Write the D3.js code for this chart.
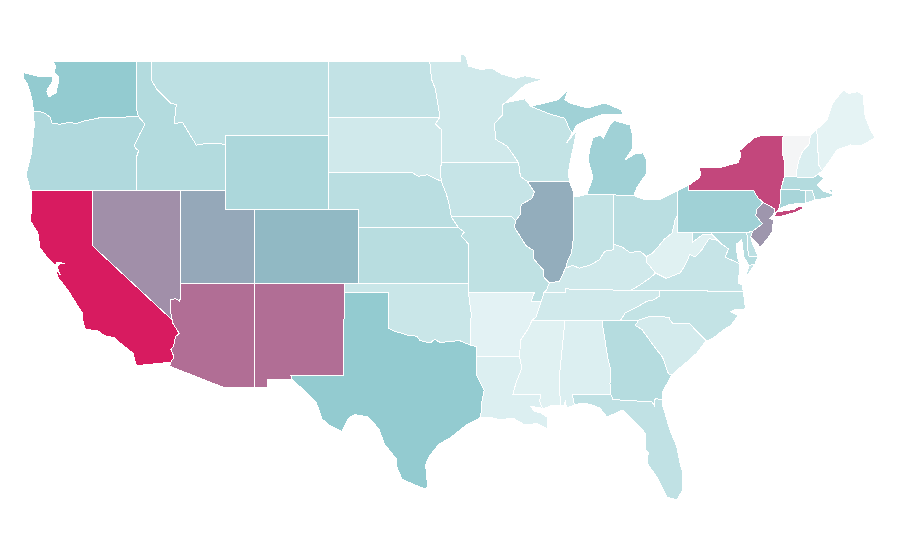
<!DOCTYPE html>
<html><head><meta charset="utf-8">
<script src="https://cdn.jsdelivr.net/npm/d3@7/dist/d3.min.js"></script>
<style>html,body{margin:0;background:#fff}svg{display:block}</style></head>
<body><svg id="map" width="900" height="560"></svg>
<script>
const stateIds=["CA","NY","NM","AZ","NV","NJ","UT","IL","CO","TX","WA","MI","PA","CT","WY","OR","GA","MD","ID","MA","NE","KS","OH","DE","MT","MO","FL","RI","ND","NC","WI","IN","IA","VA","OK","MN","SD","KY","TN","SC","LA","AL","MS","WV","AR","NH","ME","VT"];
const stateValues=[100,81,64,64,50,47,39,37,32,24,24,20.7,20.7,18.7,17.7,16.7,15.4,15.4,15.9,15.9,14.1,14.6,14.1,13.4,13.4,12.9,12.6,12.6,12.1,11.9,11.9,11.9,11.1,11.1,10.3,8.6,8.6,8.6,8.6,7.6,5.5,5.5,4.5,4.5,3.8,6,3.3,0];
const colorStops=[0,3,25,37,100];
const colorRange=["#f4f5f6","#e6f4f5","#8fc9ce","#93adbc","#d81b60"];

const arcs={
columbia:"-124,46.27 -123.5,46.25 -123.2,46.15 -122.85,45.95 -122.78,45.65 -122.2,45.58 -121.5,45.7 -121.15,45.6 -120.6,45.75 -119.6,45.92 -119,45.93 -116.92,46",
snake:"-116.92,46 -116.47,45.6 -116.85,45 -117.2,44.4 -117.05,44.25 -116.9,44.15 -117.03,43.83 -117.03,42",
idmt:"-116.05,49 -116.05,48 -115.7,47.5 -114.7,46.7 -114.35,46.65 -114.5,45.6 -113.95,45.7 -113.45,45.05 -113,44.45 -112.3,44.55 -111.5,44.55 -111.05,44.48",
colorado:"-114.63,35 -114.57,34.8 -114.15,34.27 -114.4,34.1 -114.53,33.6 -114.72,33.4 -114.5,33 -114.72,32.72",
red:"-100,34.56 -99.6,34.38 -99.2,34.3 -98.6,34.15 -98.1,34.13 -97.9,33.9 -97.2,33.75 -96.9,33.95 -96.5,33.78 -95.8,33.85 -95.2,33.88 -94.48,33.64",
sabine:"-94.04,33.02 -94.04,32 -93.8,31.6 -93.55,31.18 -93.7,30.6 -93.72,30.1 -93.84,29.7",
neIa:"-96.45,42.5 -96.1,41.8 -95.9,41.2 -95.77,40.58",
neMo:"-95.77,40.58 -95.3,40",
ksMo:"-95.3,40 -94.9,39.75 -95.1,39.55 -94.6,39.1",
redN:"-97.23,49 -97.1,48 -96.85,47.5 -96.6,46.3 -96.56,45.94",
mnWi:"-92.1,46.75 -92.3,46.65 -92.3,46.1 -92.87,45.6 -92.75,44.75 -92,44.4 -91.22,43.5",
iaWi:"-91.22,43.5 -91.1,42.75 -90.65,42.5",
iaIl:"-90.65,42.5 -90.15,41.9 -90.35,41.55 -91.05,41.25 -91.1,40.7 -91.42,40.38",
moIl:"-91.42,40.38 -91.5,40 -90.7,39 -90.2,38.75 -90.2,38.3 -89.55,37.7 -89.5,37.3 -89.15,37",
moKy:"-89.15,37 -89.35,36.6 -89.5,36.5",
moTn:"-89.5,36.5 -89.7,36",
arTn:"-89.7,36 -90.05,35.15 -90.3,35",
arMs:"-90.3,35 -90.6,34.5 -91.1,33.9 -91.15,33",
laMs:"-91.15,33 -91,32.4 -91.4,31.6 -91.6,31",
ohioIl:"-89.15,37 -88.45,37.1 -88.05,37.8",
ohioIn:"-88.05,37.8 -87.6,37.95 -87.1,37.8 -86.3,38 -85.75,38.27 -85.4,38.72 -84.8,38.8 -84.82,39.1",
ohioOh:"-84.82,39.1 -84.25,38.95 -83.7,38.65 -83,38.72 -82.6,38.42",
ohioWv:"-82.6,38.42 -82.2,38.6 -81.75,39 -81.4,39.35 -80.85,39.7 -80.65,40.4 -80.52,40.64",
wabash:"-87.53,41.7 -87.53,39.35 -87.65,38.6 -87.9,38.2 -88.05,37.8",
kyVa:"-83.68,36.6 -83.1,36.85 -82.3,37.3 -81.97,37.54",
kyWv:"-81.97,37.54 -82.6,38.15 -82.6,38.42",
vaWv:"-81.97,37.54 -81.25,37.25 -80.3,37.55 -79.95,38 -79.65,38.55 -79.3,38.4 -78.87,38.77 -78.35,39.4 -77.75,39.3",
mdWv:"-77.75,39.3 -78.2,39.65 -78.8,39.6 -79.48,39.2 -79.48,39.72",
mdVa:"-77.75,39.3 -77.5,39.1 -77.05,38.85 -77.25,38.4 -77,38.3 -76.3,38.05",
gaAl:"-85.6,35 -85.18,32.87 -85,32.3 -85.05,31.55 -85,31",
alFl:"-85,31 -87.6,31 -87.45,30.4",
gaFl:"-85,31 -84.85,30.7 -82.2,30.57 -82.05,30.37 -82,30.75 -81.53,30.7",
gaSc:"-83.1,35 -83.35,34.7 -82.9,34.5 -82,33.5 -81.5,33 -81.1,32.1 -80.88,32.03",
ncSc:"-83.1,35 -82.3,35.2 -81.05,35.15 -81.05,35.05 -80.8,34.82 -79.67,34.8 -78.55,33.87",
ncTn:"-84.32,35 -84,35.4 -83.1,35.75 -82.6,36 -82.05,36.1 -81.7,36.3 -81.68,36.59",
msAl:"-88.2,35 -88.1,34.9 -88.47,31.9 -88.4,30.37",
wiMi:"-90.4,46.55 -89.1,46.13 -88.1,45.9 -87.8,45.35 -87.6,45.1",
nyVt:"-73.35,45 -73.4,44 -73.25,43.55 -73.27,42.75",
vtNh:"-71.5,45 -71.6,44.5 -72.05,44.1 -72.3,43.6 -72.45,43 -72.46,42.73",
nhMe:"-71.08,45.3 -71,44.3 -70.97,43.4 -70.7,43.07",
nyPa:"-79.76,42.27 -79.76,42 -75.35,42 -75.05,41.6 -74.7,41.36",
paNj:"-74.7,41.36 -75.13,40.98 -75.2,40.65 -74.75,40.2 -75.4,39.8"
};

const outlines={
WA:["-122.76,49 -117.04,49 -117.04,46.4 -116.92,46 ~columbia -124.05,46.65 -124.1,46.9 -124.2,47.2 -124.4,47.75 -124.65,48.05 -124.7,48.38 -123.7,48.17 -123.1,48.17 -122.75,48.15 -122.75,47.85 -123,47.55 -123.1,47.35 -122.95,47.05 -122.75,47.15 -122.45,47.3 -122.4,47.6 -122.3,47.9 -122.35,48.2 -122.6,48.4 -122.5,48.75"],
OR:["@columbia @snake -124.2,42 -124.5,42.85 -124.15,44 -124.05,44.7 -123.95,45.5"],
CA:["-124.1,42 -120,42 -120,39 @colorado -117.05,32.53 -117.28,33.2 -117.9,33.6 -118.36,33.9 -118.5,34.03 -119.2,34.15 -119.6,34.4 -120.5,34.5 -120.65,34.9 -120.72,35.4 -121.67,36.6 -122,36.95 -122.34,37.3 -122.5,37.75 -122.2,37.45 -122.4,37.85 -122.2,38.05 -121.85,38.05 -122.4,38.12 -122.55,37.95 -123,38.3 -123.56,38.9 -123.7,39.7 -124.24,40.4 -124.1,41 -124.15,41.75","-119.9,34 -119.55,34 -119.7,33.95","-118.6,33.45 -118.3,33.35 -118.45,33.3"],
NV:["-120,42 -114.04,42 -114.04,36.2 -114.15,36.03 -114.4,36.15 -114.72,36.1 -114.75,35.5 -114.63,35 -120,39"],
AZ:["-114.04,37 -109.05,37 -109.05,31.33 -111.07,31.33 -114.8,32.5 ~colorado -114.75,35.5 -114.72,36.1 -114.4,36.15 -114.15,36.03 -114.04,36.2"],
NM:["-109.05,37 -103,37 -103,36.5 -103.06,32 -106.62,32 -106.53,31.78 -108.2,31.78 -108.2,31.33 -109.05,31.33"],
UT:["-114.04,42 -111.05,42 -111.05,41 -109.05,41 -109.05,37 -114.04,37"],
CO:["-109.05,41 -102.05,41 -102.05,37 -109.05,37"],
WY:["-111.05,45 -104.05,45 -104.05,41 -111.05,41"],
ID:["-117.04,49 @idmt -111.05,42 -117.03,42 ~snake -117.04,46.4"],
MT:["@idmt -111.05,45 -104.05,45 -104.05,49"],
ND:["-104.05,49 @redN -104.05,45.94"],
SD:["-104.05,45.94 -96.56,45.94 -96.85,45.6 -96.45,45.3 -96.45,43.5 -96.5,43 -96.45,42.5 -97.4,42.85 -98,42.77 -98.5,43 -104.05,43"],
NE:["-104.05,43 -98.5,43 -98,42.77 -97.4,42.85 @neIa @neMo -102.05,40 -102.05,41 -104.05,41"],
KS:["-102.05,40 @ksMo -94.62,37 -102.05,37"],
OK:["-103,37 -94.62,37 -94.62,36.5 -94.43,35.4 ~red -100,36.5 -103,36.5"],
TX:["-103,36.5 -100,36.5 @red -94.04,33.55 @sabine -94.7,29.35 -95.1,29.1 -95.9,28.6 -96.6,28.3 -97.2,27.7 -97.5,27.2 -97.45,26.6 -97.35,25.96 -97.55,25.87 -98.2,26.07 -99.1,26.4 -99.45,27.05 -99.5,27.5 -100.3,28.3 -100.65,29.1 -101.4,29.77 -102.3,29.88 -102.7,29.7 -103.15,28.98 -104,29.3 -104.5,29.65 -104.9,30.55 -106,31.4 -106.53,31.78 -106.62,32 -103.06,32"],
MN:["-97.23,49 -95.15,49 -95.15,49.38 -94.8,49.3 -94.6,48.72 -93.8,48.55 -93,48.6 -92.4,48.3 -91.4,48.07 -90.8,48.2 -89.6,48 -90.8,47.7 @mnWi -96.45,43.5 -96.45,45.3 -96.85,45.6 ~redN"],
IA:["-96.45,43.5 -91.22,43.5 @iaWi @iaIl -91.73,40.61 ~neIa -96.5,43"],
MO:["-95.77,40.58 -91.73,40.61 @moIl @moKy @moTn -90.37,36 -90.15,36.5 -94.62,36.5 -94.62,37 ~ksMo ~neMo"],
AR:["-94.62,36.5 -90.15,36.5 -90.37,36 @arTn @arMs -94.04,33.02 -94.04,33.55 -94.48,33.64 -94.43,35.4"],
LA:["@laMs -89.73,31 -89.8,30.6 -89.6,30.2 -89.85,30.28 -90.4,30.32 -90.15,30.05 -89.75,30 -89.3,29.75 -89.24,29.1 -90,29.4 -90.8,29.32 -91.6,29.7 -92.48,29.6 -93.2,29.75 ~sabine"],
MS:["-90.3,35 @msAl -88.9,30.4 -89.6,30.2 -89.8,30.6 -89.73,31 ~laMs ~arMs"],
AL:["-88.2,35 @gaAl @alFl -88,30.25 -88.05,30.65 -88.15,30.35 ~msAl"],
GA:["-85.6,35 -84.32,35 @gaSc -81.53,31.05 ~gaFl ~gaAl"],
FL:["@gaFl -81.53,30.5 -81,29.05 -80.55,28.2 -80.32,27.27 -80.12,26.73 -80.15,25.8 -80.52,25.27 -81.2,25.43 -81.87,26.5 -82.55,27.27 -82.45,27.85 -82.68,27.97 -82.68,28.9 -83.5,29.6 -84.17,30.14 -85.25,29.76 -85.73,30.24 -86.4,30.45 -87.08,30.5 ~alFl"],
SC:["@ncSc -79.2,33.2 -79.9,32.7 -80.5,32.3 ~gaSc"],
NC:["@ncTn -76.05,36.55 -75.95,36 -75.9,35.6 -76.6,35.55 -76.9,35.45 -76.4,35.25 -76.6,35 -76.9,34.7 -77.4,34.45 -78.1,34 -78.55,33.87 ~ncSc"],
TN:["-90.3,35 -84.32,35 @ncTn -83.68,36.6 -86.5,36.65 -88.07,36.68 -88.07,36.5 @moTn @arTn"],
KY:["@moKy -88.07,36.5 -88.07,36.68 -86.5,36.65 @kyVa @kyWv ~ohioOh ~ohioIn ~ohioIl"],
IL:["-90.65,42.5 -87.8,42.5 -87.55,42 @wabash ~ohioIl ~moIl ~iaIl"],
IN:["-84.8,41.76 -86.6,41.8 -87.3,41.65 @wabash @ohioIn"],
OH:["-84.8,41.76 -83.45,41.73 -82.7,41.5 -81.7,41.5 -80.52,41.98 ~ohioWv ~ohioOh"],
WI:["-92.1,46.75 -90.8,46.95 @wiMi -88,44.55 -87.3,45.25 -87.5,44.4 -87.7,43.7 -87.85,43 -87.8,42.5 ~iaWi ~mnWi"],
MI:["-90.4,46.55 -88.56,46.9 -87.9,47.43 -88.1,46.9 -87.75,46.73 -86.6,46.46 -85.4,46.73 -84.25,46.35 -84.2,46.08 -85.5,46.13 -86.6,45.8 -87.3,45.54 -87.6,45.1 ~wiMi","-84.75,45.78 -85.05,45.54 -85.5,44.84 -85.7,45 -86.2,44.84 -86.4,44.3 -86.53,43.65 -86.2,42.73 -86.6,41.8 -84.8,41.76 -83.45,41.73 -83.2,42.2 -82.55,42.95 -82.55,43.6 -82.8,44.03 -83.3,44 -84.03,43.65 -83.5,44.3 -83.5,44.9 -83.7,45.54","-89.2,47.85 -88.5,48.18 -88.9,47.9"],
PA:["-80.52,41.98 @nyPa @paNj -75.8,39.72 -80.52,39.72 -80.52,40.64"],
NY:["-79.76,42.27 -79,42.7 -78.9,42.9 -79.05,43.27 -77.5,43.27 -76.4,43.5 -76.2,43.9 -76.3,44.15 -75.3,44.85 -74.7,45 @nyVt -73.5,42.05 -73.55,41.3 -73.65,41 -74,40.7 -73.9,41 -74.7,41.36 ~nyPa","-74,40.6 -73.75,40.85 -72.6,40.98 -72.3,41.15 -71.87,41.07 -72.5,40.83 -73.5,40.6"],
NJ:["-74.7,41.36 -73.9,41 -74,40.7 -74.25,40.5 -74,40.4 -74.1,39.75 -74.4,39.4 -74.9,38.93 -75.15,39.2 -75.55,39.5 -75.4,39.8 ~paNj"],
CT:["-73.5,42.05 -71.8,42.02 -71.85,41.32 -72.9,41.25 -73.65,41 -73.55,41.3"],
MA:["-73.27,42.75 -72.46,42.73 -71.3,42.7 -71,42.87 -70.6,42.65 -71.05,42.3 -70.6,41.95 -70,41.8 -70.05,42.05 -70.25,42.05 -69.95,41.7 -70.65,41.55 -71.2,41.5 -71.38,42.02 -71.8,42.02 -73.5,42.05"],
RI:["-71.8,42.02 -71.38,42.02 -71.2,41.5 -71.5,41.4 -71.85,41.32"],
VT:["@vtNh -73.27,42.75 ~nyVt"],
NH:["-71.5,45 -71.08,45.3 @nhMe -71,42.87 -71.3,42.7 ~vtNh"],
ME:["-71.08,45.3 -70.4,45.8 -70,46.73 -69.3,47.43 -68.9,47.25 -68.3,47.35 -67.95,47.16 -67.8,45.97 -67.45,45.3 -67.15,44.84 -68,44.45 -68.8,44.46 -69.7,44.2 -70.2,43.6 ~nhMe"],
DE:["-75.8,39.72 -75.4,39.8 -75.55,39.5 -75.4,39.1 -75.05,38.45 -75.7,38.46"],
MD:["-79.48,39.72 -75.8,39.72 -75.7,38.46 -75.05,38.45 -75.25,38.03 -75.65,37.95 -76,38.4 -76.15,39.35 -76.5,39.1 -76.45,38.4 ~mdVa @mdWv"],
VA:["-83.68,36.6 -81.68,36.59 -76.05,36.55 -76.1,36.9 -76.4,37 -76.3,37.6 ~mdVa ~vaWv ~kyVa","-75.95,37.15 -75.65,37.95 -75.25,38.03 -75.7,37.5"],
WV:["-80.52,39.72 -79.48,39.72 ~mdWv ~vaWv @kyWv @ohioWv"]
};

const parsePt=s=>s.split(",").map(Number);
function expand(ring){
  return ring.split(/\s+/).flatMap(tok=>{
    if(tok[0]==="@")return arcs[tok.slice(1)].split(" ").map(parsePt);
    if(tok[0]==="~")return arcs[tok.slice(1)].split(" ").map(parsePt).reverse();
    return [parsePt(tok)];
  });
}
const x=d3.scaleLinear().domain([-109,-102]).range([255.5,359.1]);
const y=d3.scaleLinear().domain([41,37]).range([209,283]);
const color=d3.scaleLinear().domain(colorStops).range(colorRange).interpolate(d3.interpolateRgb);
const path=d3.geoPath(d3.geoTransform({point(a,b){this.stream.point(x(a),y(b));}}));
const features=stateIds.map((id,i)=>({type:"Feature",id,properties:{value:stateValues[i]},
  geometry:{type:"MultiPolygon",coordinates:outlines[id].map(r=>{const c=expand(r);return [c.concat([c[0]])];})}}));
d3.select("#map").selectAll("path").data(features).join("path")
  .attr("d",path).attr("fill",d=>color(d.properties.value))
  .attr("stroke","#fff").attr("stroke-width",1).attr("shape-rendering","crispEdges");
</script></body></html>
